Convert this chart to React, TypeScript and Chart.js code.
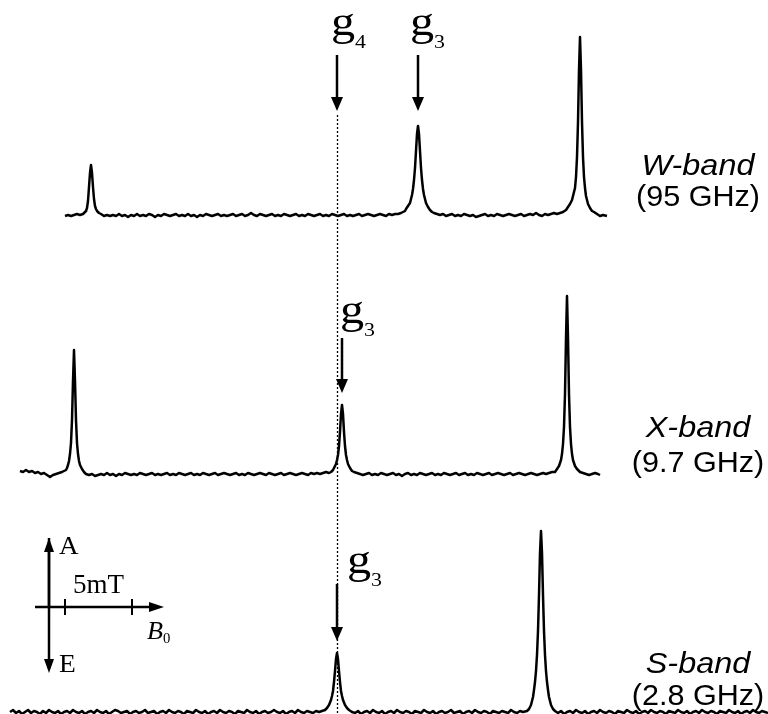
import { useEffect, useRef } from 'react';
import { Chart, registerables } from 'chart.js';

Chart.register(...registerables);

// ---- Spectra: [field (a.u.), signal height above own baseline (a.u.)] ----
const W_BAND: [number, number][] = [
  [65,-1],[68,0],[71,-1],[74,0],[77,1],[80,0],[83,1],
  [84,2],[85,3],[86,4],[87,7],[88,14],[89,28],[90,42],[91,50],[92,42],[93,28],[94,16],[95,9],[96,6],[97,4],[99,2],[101,1],
  [104,-1],[107,0],[110,-1],[113,0],[116,-1],[119,1],[122,-1],[125,0],[128,-2],[131,0],[134,-1],[137,1],[140,-1],[143,0],[146,-1],[149,1],[152,0],[155,-2],[158,0],[161,-1],[164,1],[167,0],[170,-1],[173,0],[176,1],[179,-1],[182,0],[185,-1],[188,1],[191,-1],[194,0],[197,-2],[200,0],[203,-1],[206,1],[209,0],[212,-1],[215,0],[218,1],[221,-1],[224,0],[227,-1],[230,0],[233,1],[236,-1],[239,0],[242,1],[245,-1],[248,0],[251,2],[254,0],[257,-1],[260,1],[263,0],[266,-1],[269,0],[272,1],[275,-1],[278,0],[281,-1],[284,1],[287,0],[290,-1],[293,0],[296,1],[299,-1],[302,0],[305,-1],[308,1],[311,0],[314,-1],[317,0],[320,1],[323,-1],[326,0],[329,-1],[332,1],[335,0],[338,-1],[341,0],[344,1],[347,-1],[350,0],[353,-1],[356,0],[359,1],[362,-1],[365,0],[368,1],[371,0],[374,-1],[377,0],[380,1],[383,0],[386,-1],[389,1],[392,0],[395,1],[398,1],[401,2],[403,3],[405,4],
  [406,6],[408,9],[410,12],[412,20],[413,26],[414,35],[415,47],[416,64],[417,81],[418,89],[419,81],[420,64],[421,47],[422,35],[423,26],[424,20],[426,12],[428,8],[430,5],[432,3],[434,2],
  [437,1],[440,0],[443,1],[446,-1],[449,0],[452,1],[455,-1],[458,0],[461,-1],[464,1],[467,0],[470,-1],[473,0],[476,-2],[479,-1],[482,0],[485,1],[488,-1],[491,0],[494,-1],[497,1],[500,0],[503,-1],[506,0],[509,1],[512,0],[515,-1],[518,0],[521,1],[524,-1],[527,0],[530,1],[533,0],[536,2],[539,0],[542,-1],[545,1],[548,0],[551,1],[554,2],[557,1],[560,2],[563,3],[566,5],[568,8],
  [570,11],[572,15],[574,23],[575,27],[576,38],[577,58],[578,93],[579,145],[580,178],[581,145],[582,93],[583,58],[584,38],[585,27],[586,19],[588,11],[590,7],[592,4],[594,3],[597,1],[600,-1],[603,0],[607,-1],
];

const X_BAND: [number, number][] = [
  [20,3],[23,2],[26,4],[29,2],[32,3],[35,1],[38,2],[41,0],[44,1],[47,-1],[50,-3],[53,-1],[56,0],[59,1],[62,2],[64,3],[66,4],
  [67,6],[68,9],[69,13],[70,20],[71,31],[72,54],[73,93],[74,124],[75,93],[76,54],[77,31],[78,20],[79,13],[80,9],[82,5],[84,2],[86,0],
  [89,-1],[92,0],[95,-2],[98,-1],[101,0],[104,-1],[107,1],[110,-1],[113,0],[116,-2],[119,0],[122,-1],[125,1],[128,0],[131,-1],[134,0],[137,-1],[140,1],[143,0],[146,-1],[149,0],[152,1],[155,-1],[158,0],[161,-1],[164,0],[167,1],[170,-1],[173,0],[176,-1],[179,1],[182,0],[185,-1],[188,0],[191,1],[194,-1],[197,0],[200,-1],[203,1],[206,0],[209,-1],[212,0],[215,1],[218,-1],[221,0],[224,1],[227,0],[230,-1],[233,0],[236,1],[239,-1],[242,0],[245,-1],[248,1],[251,0],[254,-1],[257,0],[260,1],[263,0],[266,-1],[269,1],[272,0],[275,-1],[278,0],[281,1],[284,-1],[287,0],[290,1],[293,0],[296,-1],[299,0],[302,1],[305,0],[308,-1],[311,1],[314,0],[317,1],[320,0],[323,1],[326,2],[329,1],[331,2],[333,4],
  [334,6],[336,10],[337,14],[338,19],[339,28],[340,42],[341,60],[342,69],[343,60],[344,42],[345,28],[346,19],[347,14],[348,10],[350,6],[352,3],[354,2],
  [357,1],[360,0],[363,-1],[366,0],[369,1],[372,-1],[375,0],[378,-1],[381,1],[384,0],[387,-1],[390,0],[393,1],[396,-1],[399,0],[402,-2],[405,0],[408,1],[411,-1],[414,0],[417,-1],[420,1],[423,0],[426,-1],[429,0],[432,1],[435,-1],[438,0],[441,-1],[444,1],[447,0],[450,-1],[453,0],[456,1],[459,-1],[462,0],[465,1],[468,-1],[471,0],[474,-1],[477,1],[480,0],[483,-1],[486,0],[489,1],[492,-1],[495,0],[498,1],[501,0],[504,-1],[507,0],[510,1],[513,-1],[516,0],[519,1],[522,0],[525,-1],[528,0],[531,1],[534,0],[537,-1],[540,0],[543,1],[546,0],[549,1],[552,2],
  [555,2],[557,5],[559,8],[561,14],[562,20],[563,30],[564,47],[565,80],[566,136],[567,178],[568,136],[569,80],[570,47],[571,30],[572,20],[573,14],[575,8],[577,5],[580,2],[583,1],[586,0],[589,-1],[592,0],[595,1],[598,0],[600,-1],
];

const S_BAND: [number, number][] = [
  [10,0],[13,2],[16,-1],[19,1],[22,-2],[25,0],[28,2],[31,-1],[34,1],[37,0],[40,-2],[43,1],[46,-1],[49,2],[52,0],[55,-1],[58,1],[61,-2],[64,0],[67,1],[70,-1],[73,2],[76,0],[79,-1],[82,1],[85,-2],[88,0],[91,1],[94,-1],[97,2],[100,0],[103,-1],[106,1],[109,-2],[112,0],[115,2],[118,1],[121,-1],[124,0],[127,1],[130,-2],[133,0],[136,1],[139,-1],[142,0],[145,2],[148,-1],[151,0],[154,1],[157,-2],[160,0],[163,1],[166,-1],[169,2],[172,0],[175,-1],[178,1],[181,0],[184,-2],[187,1],[190,0],[193,-1],[196,2],[199,0],[202,-1],[205,1],[208,-2],[211,0],[214,1],[217,-1],[220,2],[223,0],[226,-1],[229,1],[232,0],[235,-2],[238,1],[241,0],[244,-1],[247,2],[250,0],[253,-1],[256,1],[259,-2],[262,0],[265,1],[268,-1],[271,0],[274,2],[277,0],[280,-1],[283,1],[286,-2],[289,0],[292,1],[295,-1],[298,2],[301,0],[304,-1],[307,1],[310,0],[313,-1],[316,1],[319,0],[322,1],
  [325,2],[327,4],[329,7],[331,12],[332,16],[333,21],[334,30],[335,41],[336,53],[337,59],[338,53],[339,41],[340,30],[341,21],[342,16],[343,12],[345,7],[347,4],[349,2],
  [352,0],[355,-1],[358,1],[361,-2],[364,0],[367,1],[370,-1],[373,2],[376,0],[379,-1],[382,1],[385,-2],[388,0],[391,1],[394,-1],[397,2],[400,0],[403,-1],[406,1],[409,0],[412,-2],[415,1],[418,0],[421,-1],[424,2],[427,0],[430,-1],[433,1],[436,-2],[439,0],[442,1],[445,-1],[448,0],[451,2],[454,-1],[457,0],[460,1],[463,-2],[466,0],[469,1],[472,-1],[475,2],[478,0],[481,-1],[484,1],[487,0],[490,-2],[493,1],[496,0],[499,-1],[502,1],[505,0],[508,-1],[511,2],[514,0],[517,-1],[520,1],[523,0],
  [527,1],[529,3],[531,7],[533,15],[534,22],[535,30],[536,41],[537,57],[538,81],[539,117],[540,159],[541,181],[542,159],[543,117],[544,81],[545,57],[546,41],[547,30],[548,22],[549,15],[551,7],[553,3],[555,1],
  [558,-1],[561,1],[564,-2],[567,0],[570,1],[573,-1],[576,2],[579,0],[582,-1],[585,1],[588,-2],[591,0],[594,1],[597,-1],[600,2],[603,0],[606,-1],[609,1],[612,0],[615,-2],[618,1],[621,0],[624,-1],[627,2],[630,0],[633,-1],[636,1],[639,-2],[642,0],[645,1],[648,-1],[651,2],[654,0],[657,-1],[660,1],[663,0],[666,-2],[669,1],[672,0],[675,-1],[678,2],[681,0],[684,-1],[687,1],[690,-2],[693,0],[696,1],[699,-1],[702,2],[705,0],[708,-1],[711,1],[714,0],[717,-2],[720,1],[723,0],[726,-1],[729,2],[732,0],[735,-1],[738,1],[741,-2],[744,0],[747,1],[750,-1],[753,2],[756,0],[759,-1],[762,1],[765,0],[768,-1],
];

// Vertical stacking offsets of the three spectra (a.u.)
const BAND_OFFSETS = [499, 240, 2];
const BAND_NAMES = ['W-band', 'X-band', 'S-band'];
const BAND_FREQS = ['(95 GHz)', '(9.7 GHz)', '(2.8 GHz)'];

// g-marker subscripts
const G_LABELS = ['4', '3', '3', '3'];

const CANVAS_W = 768;
const CANVAS_H = 714;

export default function App() {
  const ref = useRef<HTMLCanvasElement | null>(null);

  useEffect(() => {
    document.body.style.margin = '0';
    const canvas = ref.current;
    if (!canvas) return;

    const spectra = [W_BAND, X_BAND, S_BAND];

    const annot = {
      id: 'annot',
      afterDatasetsDraw(chart: any) {
        const ctx = chart.ctx as CanvasRenderingContext2D;
        const xs = chart.scales.x;
        const ys = chart.scales.y;
        const X = (v: number) => xs.getPixelForValue(v);
        const Y = (v: number) => ys.getPixelForValue(v);

        const stretchText = (t: string, x: number, y: number, font: string, sx: number, align: CanvasTextAlign = 'left') => {
          ctx.save();
          ctx.font = font;
          ctx.textAlign = align;
          ctx.textBaseline = 'alphabetic';
          ctx.fillStyle = '#000';
          ctx.translate(x, y);
          ctx.scale(sx, 1);
          ctx.fillText(t, 0, 0);
          const w = ctx.measureText(t).width * sx;
          ctx.restore();
          return w;
        };

        const arrowDown = (x: number, yTop: number, yTip: number, headL = 14, headW = 6, lw = 2.5) => {
          ctx.save();
          ctx.strokeStyle = '#000';
          ctx.fillStyle = '#000';
          ctx.lineWidth = lw;
          ctx.beginPath();
          ctx.moveTo(x, yTop);
          ctx.lineTo(x, yTip - headL + 1);
          ctx.stroke();
          ctx.beginPath();
          ctx.moveTo(x, yTip);
          ctx.lineTo(x - headW, yTip - headL);
          ctx.lineTo(x + headW, yTip - headL);
          ctx.closePath();
          ctx.fill();
          ctx.restore();
        };
        const arrowUp = (x: number, yBot: number, yTip: number, headL = 14, headW = 5, lw = 2.5) => {
          ctx.save();
          ctx.strokeStyle = '#000';
          ctx.fillStyle = '#000';
          ctx.lineWidth = lw;
          ctx.beginPath();
          ctx.moveTo(x, yBot);
          ctx.lineTo(x, yTip + headL - 1);
          ctx.stroke();
          ctx.beginPath();
          ctx.moveTo(x, yTip);
          ctx.lineTo(x - headW, yTip + headL);
          ctx.lineTo(x + headW, yTip + headL);
          ctx.closePath();
          ctx.fill();
          ctx.restore();
        };

        ctx.save();

        // dotted guide through the g4 / g3 position
        ctx.save();
        ctx.strokeStyle = '#000';
        ctx.lineWidth = 1.3;
        ctx.setLineDash([2, 2]);
        ctx.beginPath();
        ctx.moveTo(X(337) + 0.5, Y(599));
        ctx.lineTo(X(337) + 0.5, Y(0));
        ctx.stroke();
        ctx.restore();

        // g markers: [label left, baseline value, arrow field, arrow top, arrow tip]
        const marks: [number, number, number, number, number][] = [
          [331, 679, 337, 659, 603],
          [410, 679, 418, 659, 603],
          [340, 391, 342, 376, 321],
          [347, 141, 337, 130, 73],
        ];
        marks.forEach((m, i) => {
          const gx = X(m[0]);
          const gy = Y(m[1]);
          const w = stretchText('g', gx, gy, '43px "Liberation Serif"', 1.12);
          stretchText(G_LABELS[i], gx + w, gy + 13, '19px "Liberation Serif"', 1.15);
          arrowDown(X(m[2]), Y(m[3]), Y(m[4]));
        });

        // band labels
        const labelY: [number, number][] = [[539, 508], [277, 242], [41, 9]];
        BAND_NAMES.forEach((n, i) => {
          stretchText(n, X(698), Y(labelY[i][0]), 'italic 30px "Liberation Sans"', 1.08, 'center');
          stretchText(BAND_FREQS[i], X(698), Y(labelY[i][1]), '30px "Liberation Sans"', 1.02, 'center');
        });

        // inset axes
        const ax = X(49);
        arrowUp(ax, Y(107), Y(176), 14, 5);
        arrowDown(ax, Y(176), Y(41), 14, 5);
        ctx.save();
        ctx.strokeStyle = '#000';
        ctx.fillStyle = '#000';
        ctx.lineWidth = 2.5;
        ctx.beginPath();
        ctx.moveTo(X(35), Y(107));
        ctx.lineTo(X(150), Y(107));
        ctx.stroke();
        ctx.beginPath();
        ctx.moveTo(X(164), Y(107));
        ctx.lineTo(X(149), Y(107) - 5);
        ctx.lineTo(X(149), Y(107) + 5);
        ctx.closePath();
        ctx.fill();
        ctx.lineWidth = 2;
        [65, 132].forEach((t) => {
          ctx.beginPath();
          ctx.moveTo(X(t), Y(115));
          ctx.lineTo(X(t), Y(99));
          ctx.stroke();
        });
        ctx.restore();
        stretchText('A', X(59), Y(160), '25px "Liberation Serif"', 1.08);
        stretchText('E', X(59), Y(42), '25px "Liberation Serif"', 1.1);
        stretchText('5mT', X(73), Y(121), '27px "Liberation Serif"', 1.0);
        const bw = stretchText('B', X(147), Y(75), 'italic 25px "Liberation Serif"', 1.05);
        stretchText('0', X(147) + bw, Y(71), '14px "Liberation Serif"', 1.05);

        ctx.restore();
      },
    };

    const chart = new Chart(canvas, {
      type: 'line',
      data: {
        datasets: spectra.map((s, i) => ({
          label: BAND_NAMES[i],
          data: s.map(([x, y]) => ({ x, y: BAND_OFFSETS[i] + y })),
          borderColor: '#000',
          borderWidth: 2.5,
          pointRadius: 0,
          tension: 0,
          fill: false,
          clip: false as any,
          borderJoinStyle: 'round' as const,
        })),
      },
      options: {
        responsive: false,
        maintainAspectRatio: false,
        animation: false,
        layout: { padding: 0 },
        events: [],
        plugins: { legend: { display: false }, tooltip: { enabled: false } },
        scales: {
          x: { type: 'linear', min: 0, max: CANVAS_W, display: false },
          y: { type: 'linear', min: 0, max: CANVAS_H, display: false },
        },
      },
      plugins: [annot],
    });

    return () => chart.destroy();
  }, []);

  return (
    <div style={{ width: CANVAS_W, height: CANVAS_H, background: '#fff' }}>
      <canvas ref={ref} width={CANVAS_W} height={CANVAS_H} style={{ display: 'block' }} />
    </div>
  );
}
